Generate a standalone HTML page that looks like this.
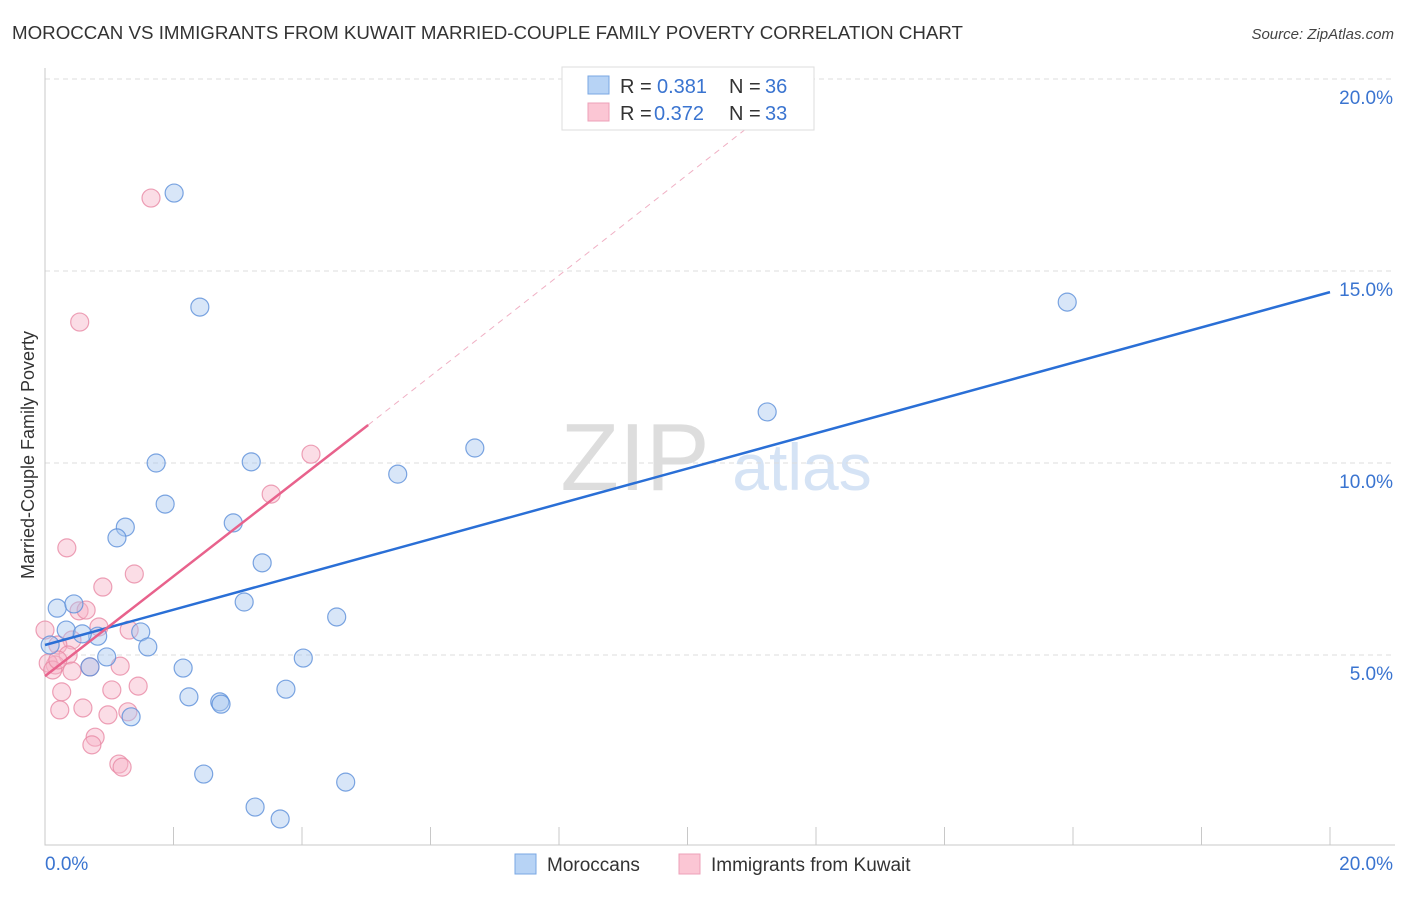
<!DOCTYPE html>
<html><head><meta charset="utf-8"><style>
body{margin:0;background:#fff;font-family:"Liberation Sans",sans-serif;}
svg text{font-family:"Liberation Sans",sans-serif;}
</style></head><body>
<svg id="c" width="1406" height="892" xmlns="http://www.w3.org/2000/svg">
<text x="12" y="39" font-size="18" fill="#333" textLength="951" lengthAdjust="spacingAndGlyphs">MOROCCAN VS IMMIGRANTS FROM KUWAIT MARRIED-COUPLE FAMILY POVERTY CORRELATION CHART</text>
<text x="1394" y="39" font-size="15" fill="#444" font-style="italic" text-anchor="end">Source: ZipAtlas.com</text>
<text x="635" y="490" font-size="96" fill="#ddd" text-anchor="middle" font-family="Liberation Serif">ZIP</text>
<text x="802" y="490" font-size="66" fill="#d5e3f5" text-anchor="middle">atlas</text>
<text transform="translate(34,455) rotate(-90)" font-size="18" fill="#333" text-anchor="middle">Married-Couple Family Poverty</text>
<g id="grid"></g><g id="marks"></g>
<g>
<rect x="562" y="67" width="252" height="63" fill="#fff" stroke="#ddd"/>
<rect x="588" y="76" width="21" height="18" fill="#b7d3f5" stroke="#7aa7e3"/>
<rect x="588" y="103" width="21" height="18" fill="#fbc6d4" stroke="#eea0b8"/>
<text x="620" y="93" font-size="20" fill="#333">R =</text>
<text x="657" y="93" font-size="20" fill="#3a74d0">0.381</text>
<text x="729" y="93" font-size="20" fill="#333">N =</text>
<text x="765" y="93" font-size="20" fill="#3a74d0">36</text>
<text x="620" y="120" font-size="20" fill="#333">R =</text>
<text x="654" y="120" font-size="20" fill="#3a74d0">0.372</text>
<text x="729" y="120" font-size="20" fill="#333">N =</text>
<text x="765" y="120" font-size="20" fill="#3a74d0">33</text>
</g>
<g>
<rect x="515" y="854" width="21" height="20" fill="#b7d3f5" stroke="#7aa7e3"/>
<text x="547" y="871" font-size="19" fill="#333">Moroccans</text>
<rect x="679" y="854" width="21" height="20" fill="#fbc6d4" stroke="#eea0b8"/>
<text x="711" y="871" font-size="19" fill="#333">Immigrants from Kuwait</text>
</g>
</svg>
<script>
const yTicks=[5,10,15,20];
const yTickLabels=["5.0%","10.0%","15.0%","20.0%"];
const xTicks=[2,4,6,8,10,12,14,16,18,20];
const blueX=[2.01,2.41,15.91,11.24,6.69,1.73,3.21,5.49,1.87,2.93,1.25,1.12,3.38,3.10,0.19,0.45,4.54,0.33,0.82,1.49,1.60,0.96,4.02,0.70,2.15,3.75,2.24,2.72,2.74,1.34,2.47,4.68,3.27,3.66,0.08,0.58];
const blueY=[17.03,14.06,14.19,11.33,10.39,10.0,10.03,9.71,8.93,8.44,8.33,8.05,7.40,6.38,6.22,6.33,5.99,5.65,5.49,5.60,5.21,4.95,4.92,4.69,4.66,4.11,3.91,3.78,3.72,3.39,1.90,1.69,1.04,0.73,5.26,5.55];
const pinkX=[1.65,0.54,4.14,3.52,0.34,1.39,0.90,0.53,0.64,0.84,1.31,0.42,0.20,0.36,0.16,0.05,0.12,0.70,0.42,1.17,1.45,0.26,1.04,0.23,0.59,0.98,1.29,0.78,0.73,1.15,1.20,0.0,0.20];
const pinkY=[16.90,13.67,10.23,9.19,7.79,7.11,6.77,6.15,6.17,5.73,5.65,5.39,5.26,5.0,4.74,4.79,4.61,4.69,4.58,4.71,4.19,4.04,4.09,3.57,3.62,3.44,3.52,2.86,2.66,2.16,2.08,5.65,4.87];
const blueTrend=[[0,5.26],[20,14.45]];
const pinkTrend=[[0,4.45],[5.03,10.99]];
const pinkDash=[[5.03,10.99],[11.9,20.0]];
const X=v=>45+v*64.25, Y=v=>847-v*38.4;
const NS="http://www.w3.org/2000/svg";
const grid=document.getElementById('grid'), marks=document.getElementById('marks');
function mk(tag,at,p){const e=document.createElementNS(NS,tag);for(const k in at)e.setAttribute(k,at[k]);p.appendChild(e);return e;}
yTicks.forEach((t,i)=>{
 const l=mk('line',{x1:45,x2:1395,y1:Y(t),y2:Y(t),stroke:'#ddd','stroke-dasharray':'5,4'},grid);
 
 
 const tx=mk('text',{x:1393,y:Y(t)+25,'font-size':19,fill:'#3a74d0','text-anchor':'end'},grid);tx.textContent=yTickLabels[i];
 
 
});
const ax=mk('path',{d:'M45,68V845H1395',stroke:'#c8c8c8',fill:'none'},grid);


xTicks.forEach(t=>{const l=mk('line',{x1:X(t),x2:X(t),y1:827,y2:845,stroke:'#c8c8c8'},grid);
 
 });
const x0=mk('text',{x:45,y:870,'font-size':19,fill:'#3a74d0'},grid);x0.textContent='0.0%';


const x1=mk('text',{x:1393,y:870,'font-size':19,fill:'#3a74d0','text-anchor':'end'},grid);x1.textContent='20.0%';


function pts(xs,ys,fill,stroke,name){xs.forEach((v,i)=>{const c=mk('circle',{cx:X(v),cy:Y(ys[i]),r:9,fill:fill,'fill-opacity':0.45,stroke:stroke,'stroke-opacity':0.8,'stroke-width':1.2},marks);
 
 });}
pts(pinkX,pinkY,'#f7b3c7','#e88aa5','kuwait-point');
pts(blueX,blueY,'#a8c8f0','#5b8fd9','moroccan-point');
function line(a,st,w,dash,name){const l=mk('line',{x1:X(a[0][0]),y1:Y(a[0][1]),x2:X(a[1][0]),y2:Y(a[1][1]),stroke:st,'stroke-width':w},marks);if(dash)l.setAttribute('stroke-dasharray',dash);
 
 }
line(pinkDash,'#f0b0c4',1,'6,5','kuwait-trend-extension');
line(blueTrend,'#2a6fd6',2.5,null,'moroccan-trend');
line(pinkTrend,'#e8628c',2.5,null,'kuwait-trend');
</script>
</body></html>
